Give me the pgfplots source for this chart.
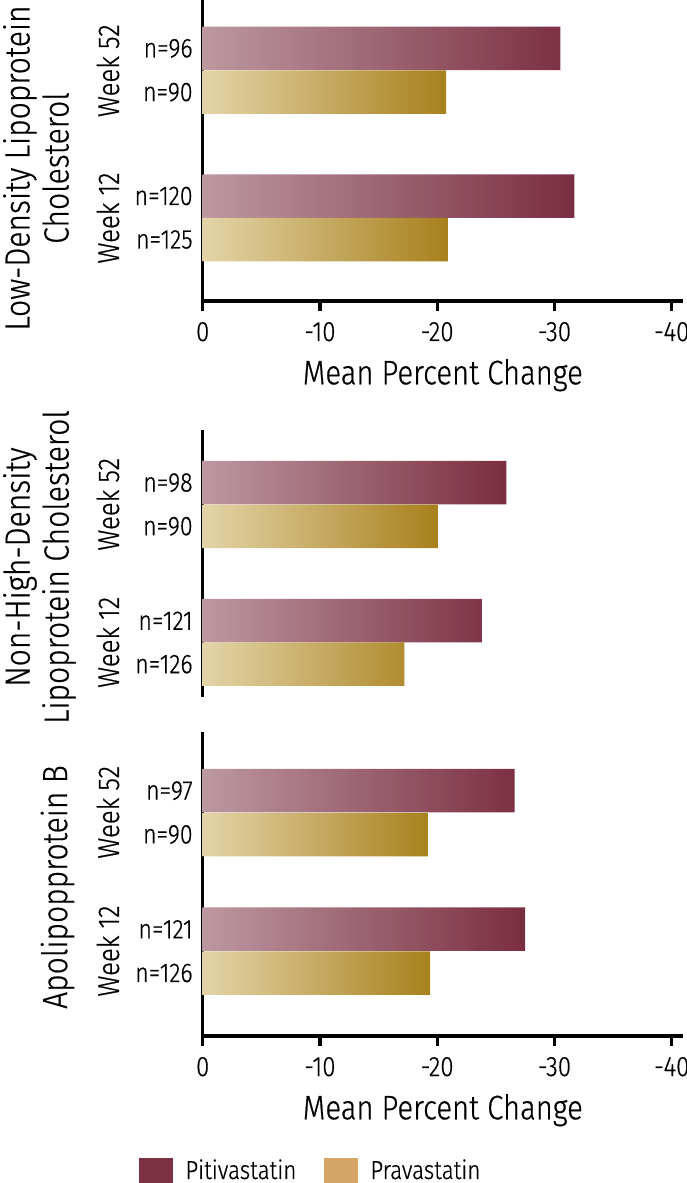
\documentclass[border=0pt]{standalone}
\usepackage{pgfplots}
\pgfplotsset{compat=1.18}
\usepackage{fontspec}
\setmainfont{Fira Sans Light}[FakeStretch=0.86, FakeBold=0.6]
\definecolor{pitL}{HTML}{BC98A0}
\definecolor{pitD}{HTML}{7A2D41}
\definecolor{praL}{HTML}{E3D4A8}
\definecolor{praD}{HTML}{A8801C}
\definecolor{pitLeg}{HTML}{7B3141}
\definecolor{praLeg}{HTML}{D4A565}

\tikzset{wk/.style={rotate=90, font=\fontsize{15}{17}\selectfont, anchor=center}}
\pgfplotsset{
  panel/.style={
    scale only axis, anchor=north west, width=240.15pt,
    x dir=reverse, xmin=-40.96, xmax=0,
    ymax=0, clip=false,
    axis y line*=left,
    axis line style={line width=1.6pt, black, -},
    ytick style={draw=none},
    yticklabel style={font=\fontsize{13.5}{15}\selectfont, xshift=3.5pt},
    xtick={0,-10,-20,-30,-40},
    xticklabels={0,-10,-20,-30,-40},
    xticklabel style={font=\fontsize{14}{16}\selectfont, yshift=-2pt},
    tick align=outside, major tick length=5pt,
    xtick style={line width=1.6pt, black},
    xlabel style={font=\fontsize{17}{20}\selectfont, yshift=-2pt},
    xbar, bar width=43.5,
  },
  pit/.style={xbar, bar shift=0pt, draw=none, left color=pitL, right color=pitD},
  pra/.style={xbar, bar shift=0pt, draw=none, left color=praL, right color=praD},
}

\begin{document}
\begin{tikzpicture}
\useasboundingbox (0pt,0pt) rectangle (343pt,-591.5pt);

% Panel 1: LDL-C
\begin{axis}[panel, at={(101.35pt,0pt)}, height=150.5pt, ymin=-301,
  axis x line*=bottom,
  ytick={-48.4,-92.2,-196,-239.5},
  yticklabels={n=96,n=90,n=120,n=125},
  xlabel={Mean Percent Change}]
\addplot[pit] coordinates {(-30.5,-48.4) (-31.7,-196)};
\addplot[pra] coordinates {(-20.75,-92.2) (-20.9,-239.5)};
\node[wk] at ([xshift=-47.35pt]axis cs:0,-70.7) {Week 52};
\node[wk] at ([xshift=-47.35pt]axis cs:0,-218) {Week 12};
\end{axis}

% Panel 2: Non-HDL-C
\begin{axis}[panel, at={(101.35pt,-215pt)}, height=133.5pt, ymin=-267,
  axis x line=none,
  ytick={-52.7,-96.3,-190.7,-234.2},
  yticklabels={n=98,n=90,n=121,n=126}]
\addplot[pit] coordinates {(-25.9,-52.7) (-23.8,-190.7)};
\addplot[pra] coordinates {(-20.05,-96.3) (-17.2,-234.2)};
\node[wk] at ([xshift=-47.35pt]axis cs:0,-74.3) {Week 52};
\node[wk] at ([xshift=-47.35pt]axis cs:0,-212.3) {Week 12};
\end{axis}

% Panel 3: Apo B
\begin{axis}[panel, at={(101.35pt,-366pt)}, height=152pt, ymin=-304,
  axis x line*=bottom,
  ytick={-58.7,-102.5,-197.2,-241},
  yticklabels={n=97,n=90,n=121,n=126},
  xlabel={Mean Percent Change},
  legend columns=2,
  legend style={draw=none, fill=none, at={(0,0)}, anchor=north west,
    xshift=-31.85pt, yshift=-59.5pt, inner sep=0pt,
    font=\fontsize{13}{15}\selectfont,
    nodes={inner xsep=6pt},
    /tikz/every even column/.append style={column sep=8pt}},
  legend image code/.code={\fill[#1] (0pt,-10.5pt) rectangle (17pt,6.5pt);}]
\addlegendimage{fill=pitLeg, draw=none}
\addlegendentry{Pitivastatin}
\addlegendimage{fill=praLeg, draw=none}
\addlegendentry{Pravastatin}
\addplot[pit, forget plot] coordinates {(-26.6,-58.7) (-27.5,-197.2)};
\addplot[pra, forget plot] coordinates {(-19.2,-102.5) (-19.4,-241)};
\node[wk] at ([xshift=-47.35pt]axis cs:0,-80.3) {Week 52};
\node[wk] at ([xshift=-47.35pt]axis cs:0,-219) {Week 12};
\end{axis}

% Group titles
\node[rotate=90, align=center, font=\fontsize{17.5}{19.5}\selectfont] at (18pt,-84pt) {Low-Density Lipoprotein\\Cholesterol};
\node[rotate=90, align=center, font=\fontsize{17.5}{19.5}\selectfont] at (19.75pt,-283.5pt) {Non-High-Density\\Lipoprotein Cholesterol};
\node[rotate=90, align=center, font=\fontsize{17.5}{19.5}\selectfont] at (28.75pt,-443.5pt) {Apolipopprotein B};
\end{tikzpicture}
\end{document}
